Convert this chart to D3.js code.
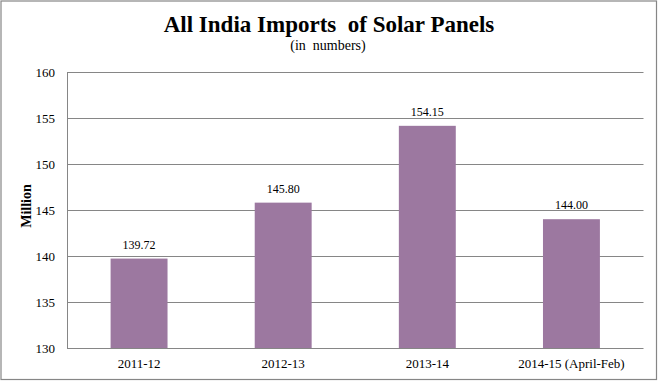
<!DOCTYPE html>
<html>
<head>
<meta charset="utf-8">
<script src="https://cdn.jsdelivr.net/npm/d3@7"></script>
<style>
  html, body { margin: 0; padding: 0; background: #fff; }
  svg { display: block; }
  text { font-family: "Liberation Serif", "Times New Roman", serif; fill: #000; }
</style>
</head>
<body>
<svg id="chart" width="658" height="381"></svg>
<script>
const categories = ["2011-12", "2012-13", "2013-14", "2014-15 (April-Feb)"];
const values = [139.72, 145.80, 154.15, 144.00];
const valueLabels = ["139.72", "145.80", "154.15", "144.00"];
const yTicks = [130, 135, 140, 145, 150, 155, 160];

const svg = d3.select("#chart");
const W = 658, H = 381;
const m = { left: 67, right: 14.5, top: 72, bottom: 33 };

svg.append("rect")
  .attr("x", 1).attr("y", 1).attr("width", W - 2.5).attr("height", H - 2.5)
  .attr("fill", "#fff").attr("stroke", "#868686").attr("stroke-width", 1.2);

const x = d3.scaleBand().domain(categories)
  .range([m.left, W - m.right]).paddingInner(0.605).paddingOuter(0.3025);
const y = d3.scaleLinear().domain([130, 160]).range([H - m.bottom, m.top]);

// gridlines
svg.append("g").selectAll("line").data(yTicks).join("line")
  .attr("x1", m.left).attr("x2", W - m.right)
  .attr("y1", d => Math.round(y(d)) + 0.5).attr("y2", d => Math.round(y(d)) + 0.5)
  .attr("stroke", "#868686").attr("stroke-width", 1);

// y axis line
svg.append("line")
  .attr("x1", m.left + 0.5).attr("x2", m.left + 0.5)
  .attr("y1", y(160)).attr("y2", y(130) + 0.5)
  .attr("stroke", "#868686");

// y tick labels
svg.append("g").selectAll("text").data(yTicks).join("text")
  .attr("x", 55).attr("y", d => y(d))
  .attr("dy", "0.35em").attr("text-anchor", "end")
  .style("font-size", "13px").text(d => d);

// bars
svg.append("g").selectAll("rect").data(values).join("rect")
  .attr("x", (d, i) => x(categories[i]))
  .attr("width", x.bandwidth())
  .attr("y", d => y(d))
  .attr("height", d => y(130) - y(d))
  .attr("fill", "#9c78a0");

// value labels
svg.append("g").selectAll("text").data(values).join("text")
  .attr("x", (d, i) => x(categories[i]) + x.bandwidth() / 2)
  .attr("y", d => y(d) - 10)
  .attr("text-anchor", "middle")
  .style("font-size", "12px")
  .text((d, i) => valueLabels[i]);

// x labels
svg.append("g").selectAll("text").data(categories).join("text")
  .attr("x", d => x(d) + x.bandwidth() / 2)
  .attr("y", 368)
  .attr("text-anchor", "middle")
  .style("font-size", "13px")
  .text(d => d);

// y axis title
svg.append("text")
  .attr("transform", "translate(31,206) rotate(-90)")
  .attr("text-anchor", "middle")
  .style("font-size", "14px").style("font-weight", "bold")
  .text("Million");

// title
svg.append("text")
  .attr("x", 329).attr("y", 32)
  .attr("text-anchor", "middle")
  .style("font-size", "23px").style("font-weight", "bold")
  .style("white-space", "pre").attr("xml:space", "preserve")
  .text("All India Imports  of Solar Panels");

svg.append("text")
  .attr("x", 328).attr("y", 50)
  .attr("text-anchor", "middle")
  .style("font-size", "14px")
  .style("white-space", "pre").attr("xml:space", "preserve")
  .text("(in  numbers)");
</script>
</body>
</html>
